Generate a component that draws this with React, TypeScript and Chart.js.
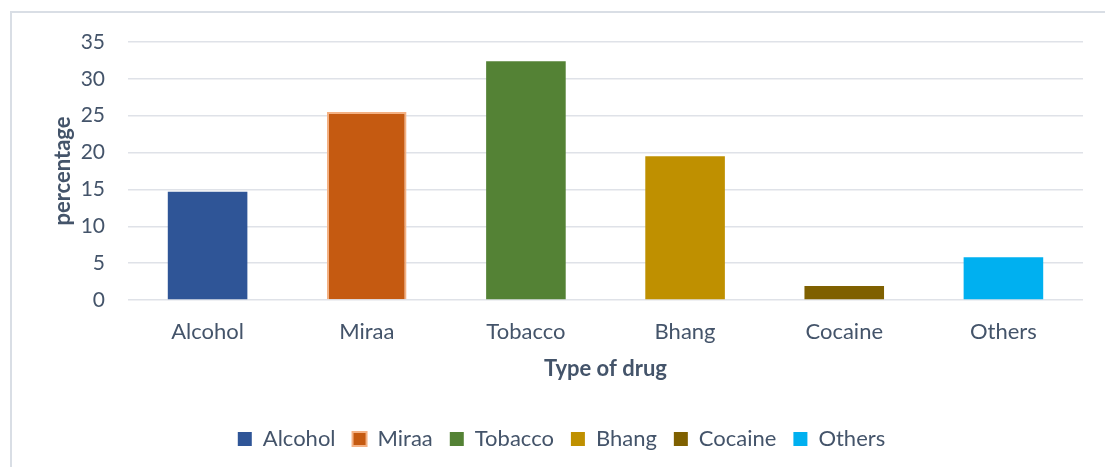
import React, { useEffect, useRef } from "react";
import { Chart, registerables } from "chart.js";

Chart.register(...registerables);

const categories = ["Alcohol", "Miraa", "Tobacco", "Bhang", "Cocaine", "Others"];
const percentages = [14.7, 25.5, 32.4, 19.5, 1.9, 5.8];
const barColors = ["#2F5597", "#C55A11", "#548235", "#BF9000", "#7F6000", "#00B0F0"];
const borderColors = ["#2F5597", "#F4B183", "#548235", "#BF9000", "#7F6000", "#00B0F0"];
const borderWidths = [0, 2, 0, 0, 0, 0];

const TEXT = "#44546A";
const GRID = "#DFE2E8";
const FONT = "Lato, 'Open Sans', sans-serif";

const framePlugin = {
  id: "frame",
  beforeDraw(chart: any) {
    const ctx = chart.ctx;
    ctx.save();
    ctx.strokeStyle = "#D9DEE5";
    ctx.lineWidth = 2;
    ctx.beginPath();
    ctx.moveTo(10, 12);
    ctx.lineTo(chart.width, 12);
    ctx.moveTo(11, 12);
    ctx.lineTo(11, chart.height);
    ctx.stroke();
    ctx.restore();
  },
};

export default function App() {
  const ref = useRef<HTMLCanvasElement | null>(null);

  useEffect(() => {
    if (!ref.current) return;
    const chart = new Chart(ref.current, {
      type: "bar",
      data: {
        labels: categories,
        datasets: [
          {
            label: "percentage",
            data: percentages,
            backgroundColor: barColors,
            borderColor: borderColors,
            borderWidth: borderWidths,
            barPercentage: 0.5,
            categoryPercentage: 1,
          },
        ],
      },
      options: {
        responsive: false,
        animation: false,
        layout: { padding: { left: 40, right: 22, top: 42, bottom: 7 } },
        plugins: {
          tooltip: { enabled: false },
          legend: {
            position: "bottom",
            labels: {
              boxWidth: 14,
              boxHeight: 14,
              padding: 17,
              color: TEXT,
              font: { family: FONT, size: 22 },
              generateLabels: () =>
                categories.map((c, i) => ({
                  text: c,
                  fillStyle: barColors[i],
                  strokeStyle: borderColors[i],
                  lineWidth: borderWidths[i],
                  fontColor: TEXT,
                  hidden: false,
                  index: i,
                  datasetIndex: 0,
                })),
            },
            onClick: () => {},
          },
        },
        scales: {
          x: {
            grid: { display: false, drawTicks: false },
            border: { display: false },
            ticks: { color: TEXT, font: { family: FONT, size: 22 }, padding: 19 },
            title: {
              display: true,
              text: "Type of drug",
              color: TEXT,
              font: { family: FONT, size: 22, weight: "bold" },
              padding: { top: 0, bottom: 29 },
            },
            afterFit: (scale: any) => {
              scale.height = 111;
            },
          },
          y: {
            min: 0,
            max: 35,
            ticks: { stepSize: 5, color: TEXT, font: { family: FONT, size: 21 }, padding: 23 },
            grid: { color: GRID, lineWidth: 1.5, drawTicks: false },
            border: { display: false },
            title: {
              display: true,
              text: "percentage",
              color: TEXT,
              font: { family: FONT, size: 22, weight: "bold" },
              padding: { top: 10, bottom: 0 },
            },
            afterFit: (scale: any) => {
              scale.width = 88;
            },
          },
        },
      },
      plugins: [framePlugin],
    } as any);
    return () => chart.destroy();
  }, []);

  return (
    <div style={{ position: "fixed", left: 0, top: 0, width: 1105, height: 467, background: "#fff" }}>
      <canvas ref={ref} width={1105} height={467} />
    </div>
  );
}
